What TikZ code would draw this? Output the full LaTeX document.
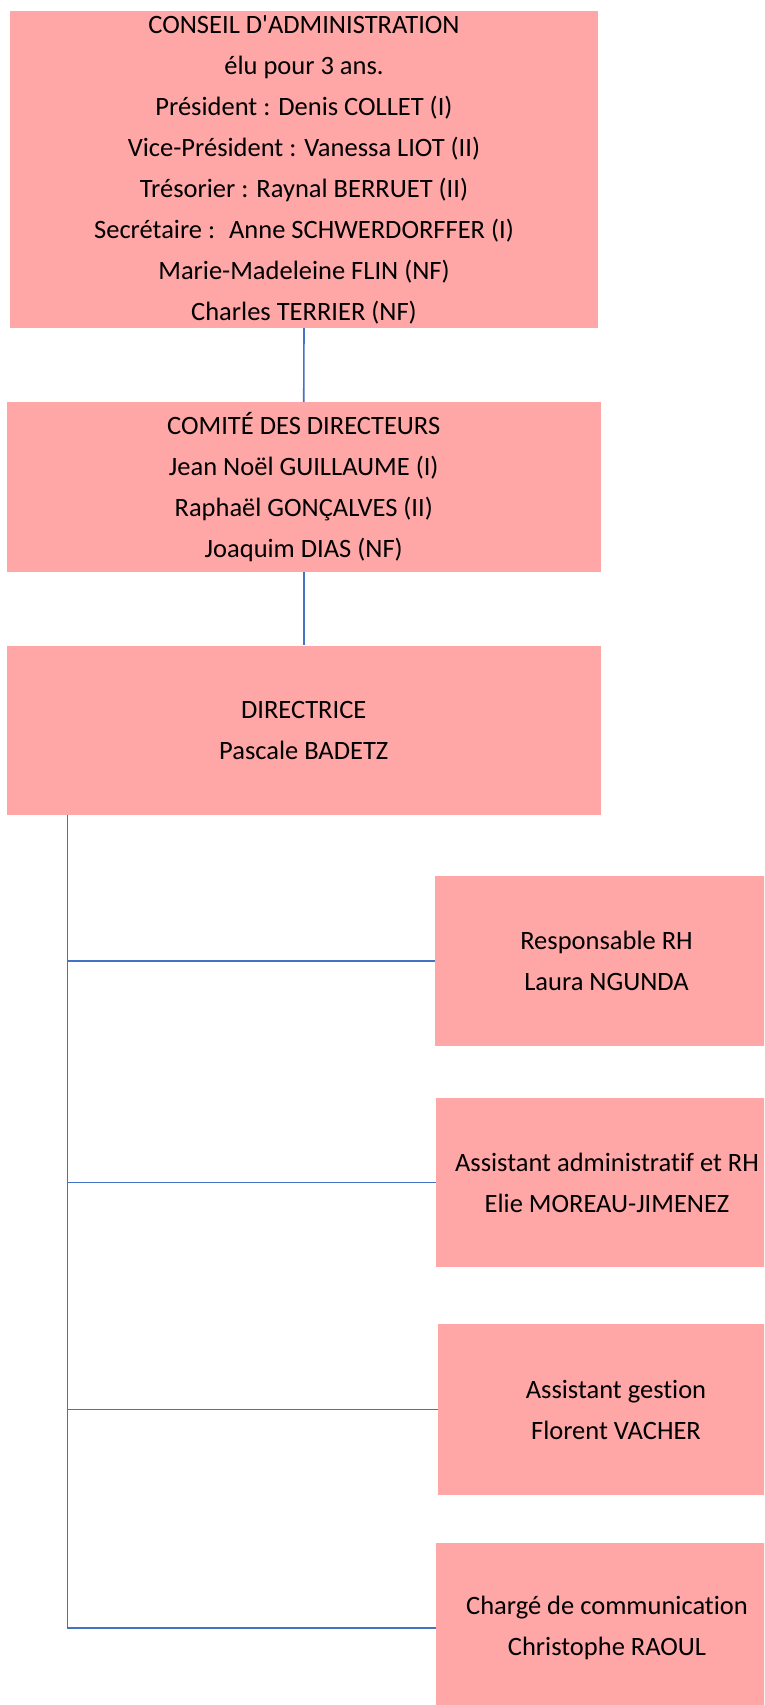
\documentclass[tikz,border=0pt]{standalone}
\usepackage{fontspec}
\setmainfont{Carlito}[Ligatures={CommonOff,TeXOff}]
\definecolor{boxpink}{RGB}{255,166,166}
\definecolor{linkblue}{RGB}{68,114,196}
\begin{document}
\begin{tikzpicture}[x=1pt,y=-1pt,
  orgbox/.style={rectangle,fill=boxpink,draw=none,inner sep=0pt,align=center,
    font=\fontsize{26.5}{41}\selectfont},
  link/.style={draw=linkblue,line width=1.6pt}]
\clip (0,0) rectangle (764,1705);
\useasboundingbox (0,0) rectangle (764,1705);
\node[orgbox,minimum width=588pt,minimum height=317pt] (b1) at (304,169.5)
  {CONSEIL D'ADMINISTRATION\\élu pour 3 ans.\\Président : Denis COLLET (I)\\Vice-Président : Vanessa LIOT (II)\\Trésorier : Raynal BERRUET (II)\\Secrétaire : \ Anne SCHWERDORFFER (I)\\Marie-Madeleine FLIN (NF)\\Charles TERRIER (NF)};
\node[orgbox,minimum width=594.5pt,minimum height=170pt] (b2) at (303.75,487)
  {COMITÉ DES DIRECTEURS\\Jean Noël GUILLAUME (I)\\Raphaël GONÇALVES (II)\\Joaquim DIAS (NF)};
\node[orgbox,minimum width=594.5pt,minimum height=169.4pt] (b3) at (303.75,730.3)
  {DIRECTRICE\\Pascale BADETZ};
\node[orgbox,minimum width=343pt,minimum height=169.5pt] (b4) at (606.5,960.75)
  {Responsable RH\\Laura NGUNDA};
\node[orgbox,minimum width=342pt,minimum height=169pt] (b5) at (607,1182.5)
  {Assistant administratif et RH\\Elie MOREAU-JIMENEZ};
\node[orgbox,minimum width=356pt,minimum height=171pt] (b6) at (616,1409.5)
  {Assistant gestion\\Florent VACHER};
\node[orgbox,minimum width=342pt,minimum height=170pt] (b7) at (607,1628)
  {Chargé de communication\\Christophe RAOUL};
\coordinate (spine) at (67.4,815);
\draw[link] (b1.south) -- (b2.north);
\draw[link] (b2.south) -- (b3.north);
\draw[link] (spine) |- (b7.west);
\draw[link] (spine |- b4.west) -- (b4.west);
\draw[link] (spine |- b5.west) -- (b5.west);
\draw[link] (spine |- b6.west) -- (b6.west);
\end{tikzpicture}
\end{document}
